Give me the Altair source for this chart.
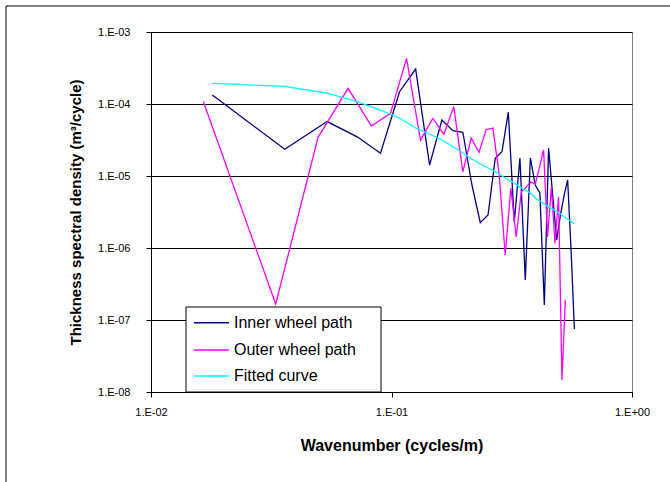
import altair as alt
import pandas as pd

series_names = ["Inner wheel path", "Outer wheel path", "Fitted curve"]
series_colors = ["#000080", "#FF00FF", "#00FFFF"]

inner_x = [0.018, 0.036, 0.054, 0.072, 0.090, 0.108, 0.126, 0.144, 0.162, 0.180,
           0.198, 0.216, 0.234, 0.252, 0.270, 0.288, 0.306, 0.324, 0.342, 0.360,
           0.378, 0.396, 0.414, 0.432, 0.450, 0.468, 0.486, 0.504, 0.522, 0.540,
           0.558, 0.576]
inner_y = [1.33e-4, 2.35e-5, 5.7e-5, 3.5e-5, 2.07e-5, 1.48e-4, 3.06e-4, 1.42e-5, 6.0e-5, 4.26e-5,
           4.05e-5, 7.5e-6, 2.25e-6, 2.87e-6, 1.76e-5, 2.17e-5, 7.7e-5, 2.3e-6, 1.78e-5, 3.6e-7,
           1.78e-5, 7.5e-6, 5.8e-6, 1.62e-7, 2.45e-5, 5.4e-6, 1.29e-6, 2.87e-6, 5.4e-6, 8.8e-6,
           9.4e-7, 7.5e-8]

outer_x = [0.0165, 0.033, 0.0495, 0.066, 0.0825, 0.099, 0.1155, 0.132, 0.1485, 0.165,
           0.1815, 0.198, 0.2145, 0.231, 0.2475, 0.264, 0.2805, 0.297, 0.3135, 0.330,
           0.3465, 0.363, 0.3795, 0.396, 0.4125, 0.429, 0.4455, 0.462, 0.4785, 0.495,
           0.5115, 0.528]
outer_y = [1.08e-4, 1.67e-7, 3.44e-5, 1.65e-4, 4.95e-5, 7.4e-5, 4.3e-4, 3.16e-5, 6.3e-5, 3.8e-5,
           9.2e-5, 1.14e-5, 3.37e-5, 2.13e-5, 4.4e-5, 4.64e-5, 1.03e-5, 8.0e-7, 6.8e-6, 1.42e-6,
           6.05e-6, 7.0e-6, 8.25e-6, 7.74e-6, 1.33e-5, 2.3e-5, 1.42e-6, 7.0e-6, 1.17e-6, 5.1e-6,
           1.47e-8, 1.9e-7]

fit_x = inner_x
fit_y = [1.94e-4, 1.75e-4, 1.42e-4, 1.08e-4, 8.25e-5, 6.4e-5, 4.64e-5, 3.83e-5, 3.16e-5, 2.57e-5,
         2.09e-5, 1.72e-5, 1.47e-5, 1.29e-5, 1.15e-5, 1.0e-5, 8.8e-6, 8.0e-6, 7.0e-6, 6.4e-6,
         5.8e-6, 4.95e-6, 4.5e-6, 4.08e-6, 3.71e-6, 3.48e-6, 3.21e-6, 2.96e-6, 2.7e-6, 2.53e-6,
         2.33e-6, 2.16e-6]

x_ticks = [0.01, 0.1, 1.0]
y_ticks = [1e-8, 1e-7, 1e-6, 1e-5, 1e-4, 1e-3]

rows = []
for name, xs, ys in [(series_names[0], inner_x, inner_y),
                     (series_names[1], outer_x, outer_y),
                     (series_names[2], fit_x, fit_y)]:
    for i, (a, b) in enumerate(zip(xs, ys)):
        rows.append({"series": name, "x": a, "y": b, "idx": i})
df = pd.DataFrame(rows)

FONT = "Liberation Sans"
exp_label = ("'1.E' + (round(log(datum.value)/LN10) < 0 ? '-' : '+') + '0' + "
             "abs(round(log(datum.value)/LN10))")

lines = alt.Chart(df).mark_line(strokeWidth=1.3, clip=True).encode(
    x=alt.X("x:Q",
            scale=alt.Scale(type="log", domain=[0.01, 1.0]),
            axis=alt.Axis(values=x_ticks, labelExpr=exp_label, grid=False, labelFlush=False,
                          labelOverlap=False,
                          title="Wavenumber (cycles/m)", tickSize=5, tickColor="black",
                          domainColor="black", labelFont=FONT, labelFontSize=11,
                          labelColor="black", labelPadding=9, titleFont=FONT,
                          titleFontSize=16, titleFontWeight="bold", titleColor="black",
                          titlePadding=20)),
    y=alt.Y("y:Q",
            scale=alt.Scale(type="log", domain=[1e-8, 1e-3]),
            axis=alt.Axis(values=y_ticks, labelExpr=exp_label, grid=True, labelFlush=False,
                          labelOverlap=False,
                          gridColor="black", gridOpacity=1, gridWidth=1,
                          title="Thickness spectral density (m³/cycle)", tickSize=5,
                          tickColor="black", domainColor="black", labelFont=FONT,
                          labelFontSize=11, labelColor="black", labelPadding=16,
                          titleFont=FONT, titleFontSize=15, titleFontWeight="bold",
                          titleColor="black", titlePadding=14)),
    color=alt.Color("series:N",
                    scale=alt.Scale(domain=series_names, range=series_colors),
                    legend=None),
    order=alt.Order("idx:Q"),
)

one = pd.DataFrame({"k": [0]})

legend_box = alt.Chart(one).mark_rect(fill="white", stroke="black", strokeWidth=1).encode(
    x=alt.value(35), x2=alt.value(230), y=alt.value(275), y2=alt.value(360))

legend_layers = [legend_box]
row_y = [290.7, 318, 344]
for name, col, yy in zip(series_names, series_colors, row_y):
    legend_layers.append(
        alt.Chart(one).mark_rule(color=col, strokeWidth=1.5).encode(
            x=alt.value(43), x2=alt.value(78), y=alt.value(yy)))
    legend_layers.append(
        alt.Chart(one).mark_text(align="left", baseline="middle", font=FONT,
                                 fontSize=16, color="black").encode(
            x=alt.value(83), y=alt.value(yy), text=alt.value(name)))

frame_left = alt.Chart(one).mark_rule(color="black", strokeWidth=1).encode(
    x=alt.value(-145), y=alt.value(-26), y2=alt.value(460))
frame_top = alt.Chart(one).mark_rule(color="black", strokeWidth=1).encode(
    x=alt.value(-145), x2=alt.value(540), y=alt.value(-26))

chart = alt.layer(lines, *legend_layers, frame_left, frame_top).properties(
    width=481, height=360,
    autosize="none",
    padding={"left": 151, "top": 32, "right": 38, "bottom": 90},
).configure_view(stroke="#808080", strokeWidth=1)

chart.save("out.html", embed_options={"renderer": "svg", "actions": False})
